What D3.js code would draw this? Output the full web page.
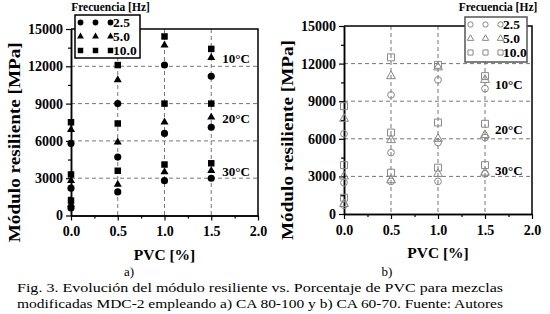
<!DOCTYPE html>
<html>
<head>
<meta charset="utf-8">
<script src="https://cdn.jsdelivr.net/npm/d3@7"></script>
<style>
  body { margin: 0; background: #fff; }
</style>
</head>
<body>
<script>
// PVC content [%] (x values)
var pvc = [0, 0.5, 1.0, 1.5];
var freqs = ["2.5", "5.0", "10.0"];
var temps = ["10°C", "20°C", "30°C"];
var yTicks = [0, 3000, 6000, 9000, 12000, 15000];
var xTicks = [0, 0.5, 1.0, 1.5, 2.0];

// a) CA 80-100 -- one row per temperature (10, 20, 30 °C), one value per PVC
var a_f25 = [[5800, 9000, 12100, 11200], [2200, 4700, 6600, 7100], [600, 1900, 2800, 3000]];
var a_f50 = [[6900, 10900, 13700, 12700], [2800, 5900, 7500, 7900], [900, 2500, 3500, 3600]];
var a_f100 = [[7500, 12100, 14400, 13400], [3300, 7400, 9000, 9000], [1200, 3600, 4100, 4200]];

// b) CA 60-70
var b_f25 = [[6400, 9500, 10700, 10000], [2500, 4900, 5700, 6100], [700, 2600, 2600, 3200]];
var b_f50 = [[7600, 11000, 11700, 10700], [3000, 5900, 6000, 6300], [800, 2700, 3200, 3300]];
var b_f100 = [[8600, 12500, 11900, 11000], [3900, 6500, 7300, 7200], [1300, 3300, 3700, 3900]];

// where the temperature notes sit (MPa level, next to PVC 1.5)
var a_tempAt = [12600, 7800, 3500];
var b_tempAt = [10300, 6700, 3400];

var SERIF = "Liberation Serif";

var svg = d3.select("body").append("svg")
    .attr("width", 550)
    .attr("height", 314);

var shapes = [d3.symbolCircle, d3.symbolTriangle, d3.symbolSquare];

function bold(sel, size) {
    return sel.attr("font-family", SERIF).attr("font-weight", "bold")
        .attr("font-size", size).attr("fill", "#000");
}

function panel(o) {
    var x = d3.scaleLinear().domain([0, 2]).range([o.x0, o.x1]);
    var y = d3.scaleLinear().domain([0, 15000]).range([o.y0, o.y1]);
    var g = svg.append("g");

    // dashed grid
    g.selectAll(".hg").data(yTicks.slice(1, 5)).enter().append("line")
        .attr("x1", o.x0).attr("x2", o.x1)
        .attr("y1", function (d) { return y(d); })
        .attr("y2", function (d) { return y(d); })
        .attr("stroke", "#777").attr("stroke-width", 1).attr("stroke-dasharray", "4,3");
    g.selectAll(".vg").data(xTicks.slice(1, 4)).enter().append("line")
        .attr("y1", o.y1).attr("y2", o.y0)
        .attr("x1", function (d) { return x(d); })
        .attr("x2", function (d) { return x(d); })
        .attr("stroke", "#777").attr("stroke-width", 1).attr("stroke-dasharray", "4,3");

    // top + right frame
    g.append("path")
        .attr("d", "M" + o.x0 + "," + o.y1 + "H" + o.x1 + "V" + o.y0)
        .attr("fill", "none").attr("stroke", "#000").attr("stroke-width", 1.5);

    // axes, major + minor ticks
    var minorY = d3.range(1500, 15000, 3000);
    var minorX = [0.25, 0.75, 1.25, 1.75];
    g.append("g").attr("transform", "translate(" + o.x0 + ",0)")
        .call(d3.axisLeft(y).tickValues(minorY).tickSize(3).tickSizeOuter(0).tickFormat(""));
    g.append("g").attr("transform", "translate(0," + o.y0 + ")")
        .call(d3.axisBottom(x).tickValues(minorX).tickSize(3).tickSizeOuter(0).tickFormat(""));
    g.append("g").attr("transform", "translate(" + o.x0 + ",0)")
        .call(d3.axisLeft(y).tickValues(yTicks).tickSize(5).tickSizeOuter(0).tickPadding(3).tickFormat(d3.format("d")));
    g.append("g").attr("transform", "translate(0," + o.y0 + ")")
        .call(d3.axisBottom(x).tickValues(xTicks).tickSize(5).tickSizeOuter(0).tickPadding(6).tickFormat(d3.format(".1f")));
    g.selectAll(".domain").attr("stroke", "#000").attr("stroke-width", 1.5);
    g.selectAll(".tick line").attr("stroke", "#000").attr("stroke-width", 1.2);
    bold(g.selectAll(".tick text"), 14);

    // axis titles
    bold(g.append("text"), 16)
        .attr("transform", "translate(" + o.ylabX + "," + ((o.y0 + o.y1) / 2 + 20) + ") rotate(-90)")
        .attr("text-anchor", "middle")
        .attr("textLength", 200).attr("lengthAdjust", "spacingAndGlyphs")
        .text("Módulo resiliente [MPa]");
    bold(g.append("text"), 15.5)
        .attr("x", (o.x0 + o.x1) / 2).attr("y", o.y0 + 44)
        .attr("text-anchor", "middle")
        .text("PVC [%]");

    // points
    o.series.forEach(function (rows, k) {
        var sym = d3.symbol().type(shapes[k]).size(o.sizes[k]);
        rows.forEach(function (vals) {
            g.selectAll(null).data(vals).enter().append("path")
                .attr("d", sym)
                .attr("transform", function (d, i) { return "translate(" + x(pvc[i]) + "," + y(d) + ")"; })
                .attr("fill", o.fill).attr("stroke", o.stroke).attr("stroke-width", 1);
        });
    });

    // temperature notes
    bold(g.selectAll(".tl").data(o.tempAt).enter().append("text"), 13)
        .attr("x", x(1.5) + o.tempDx)
        .attr("y", function (d) { return y(d) + 4; })
        .text(function (d, i) { return temps[i]; });

    // legend
    var L = o.legend;
    bold(g.append("text"), 11.5)
        .attr("x", L.x + L.w / 2 + L.titleDx).attr("y", 11)
        .attr("text-anchor", "middle")
        .text("Frecuencia [Hz]");
    g.append("rect")
        .attr("x", L.x).attr("y", L.y).attr("width", L.w).attr("height", L.h)
        .attr("fill", "#fff").attr("stroke", L.border).attr("stroke-width", 1.5);
    freqs.forEach(function (f, k) {
        var sym = d3.symbol().type(shapes[k]).size(o.legendSizes[k]);
        var ry = L.y + 7.5 + k * 14;
        [0, 1, 2].forEach(function (j) {
            g.append("path").attr("d", sym)
                .attr("transform", "translate(" + (L.x + 5.5 + j * 15) + "," + ry + ")")
                .attr("fill", o.fill).attr("stroke", o.stroke).attr("stroke-width", 1);
        });
        bold(g.append("text"), 13.5)
            .attr("x", L.x + 38).attr("y", ry + 4.5)
            .text(f);
    });
}

panel({
    x0: 71, x1: 258, y0: 215.5, y1: 29, ylabX: 20,
    series: [a_f25, a_f50, a_f100], sizes: [40, 28, 42], legendSizes: [26, 20, 30],
    fill: "#000", stroke: "none", tempAt: a_tempAt, tempDx: 11,
    legend: { x: 75, y: 15, w: 65, h: 43, border: "#000", titleDx: 3 }
});

panel({
    x0: 344, x1: 532, y0: 214, y1: 26, ylabX: 293,
    series: [b_f25, b_f50, b_f100], sizes: [36, 34, 48], legendSizes: [22, 18, 26],
    fill: "none", stroke: "#888", tempAt: b_tempAt, tempDx: 10,
    legend: { x: 465, y: 17, w: 62, h: 45, border: "#555", titleDx: 2 }
});

// panel letters + caption
function cap(t, x, y, len) {
    var s = svg.append("text").attr("x", x).attr("y", y).attr("text-anchor", "middle")
        .attr("font-family", SERIF).attr("font-size", 13).attr("fill", "#000").text(t);
    if (len) s.attr("textLength", len).attr("lengthAdjust", "spacingAndGlyphs");
}
cap("a)", 129, 276);
cap("b)", 387, 276);
cap("Fig. 3. Evolución del módulo resiliente vs. Porcentaje de PVC para mezclas", 260, 292, 486);
cap("modificadas MDC-2 empleando a) CA 80-100 y b) CA 60-70. Fuente: Autores", 260, 308, 486);
</script>
</body>
</html>
